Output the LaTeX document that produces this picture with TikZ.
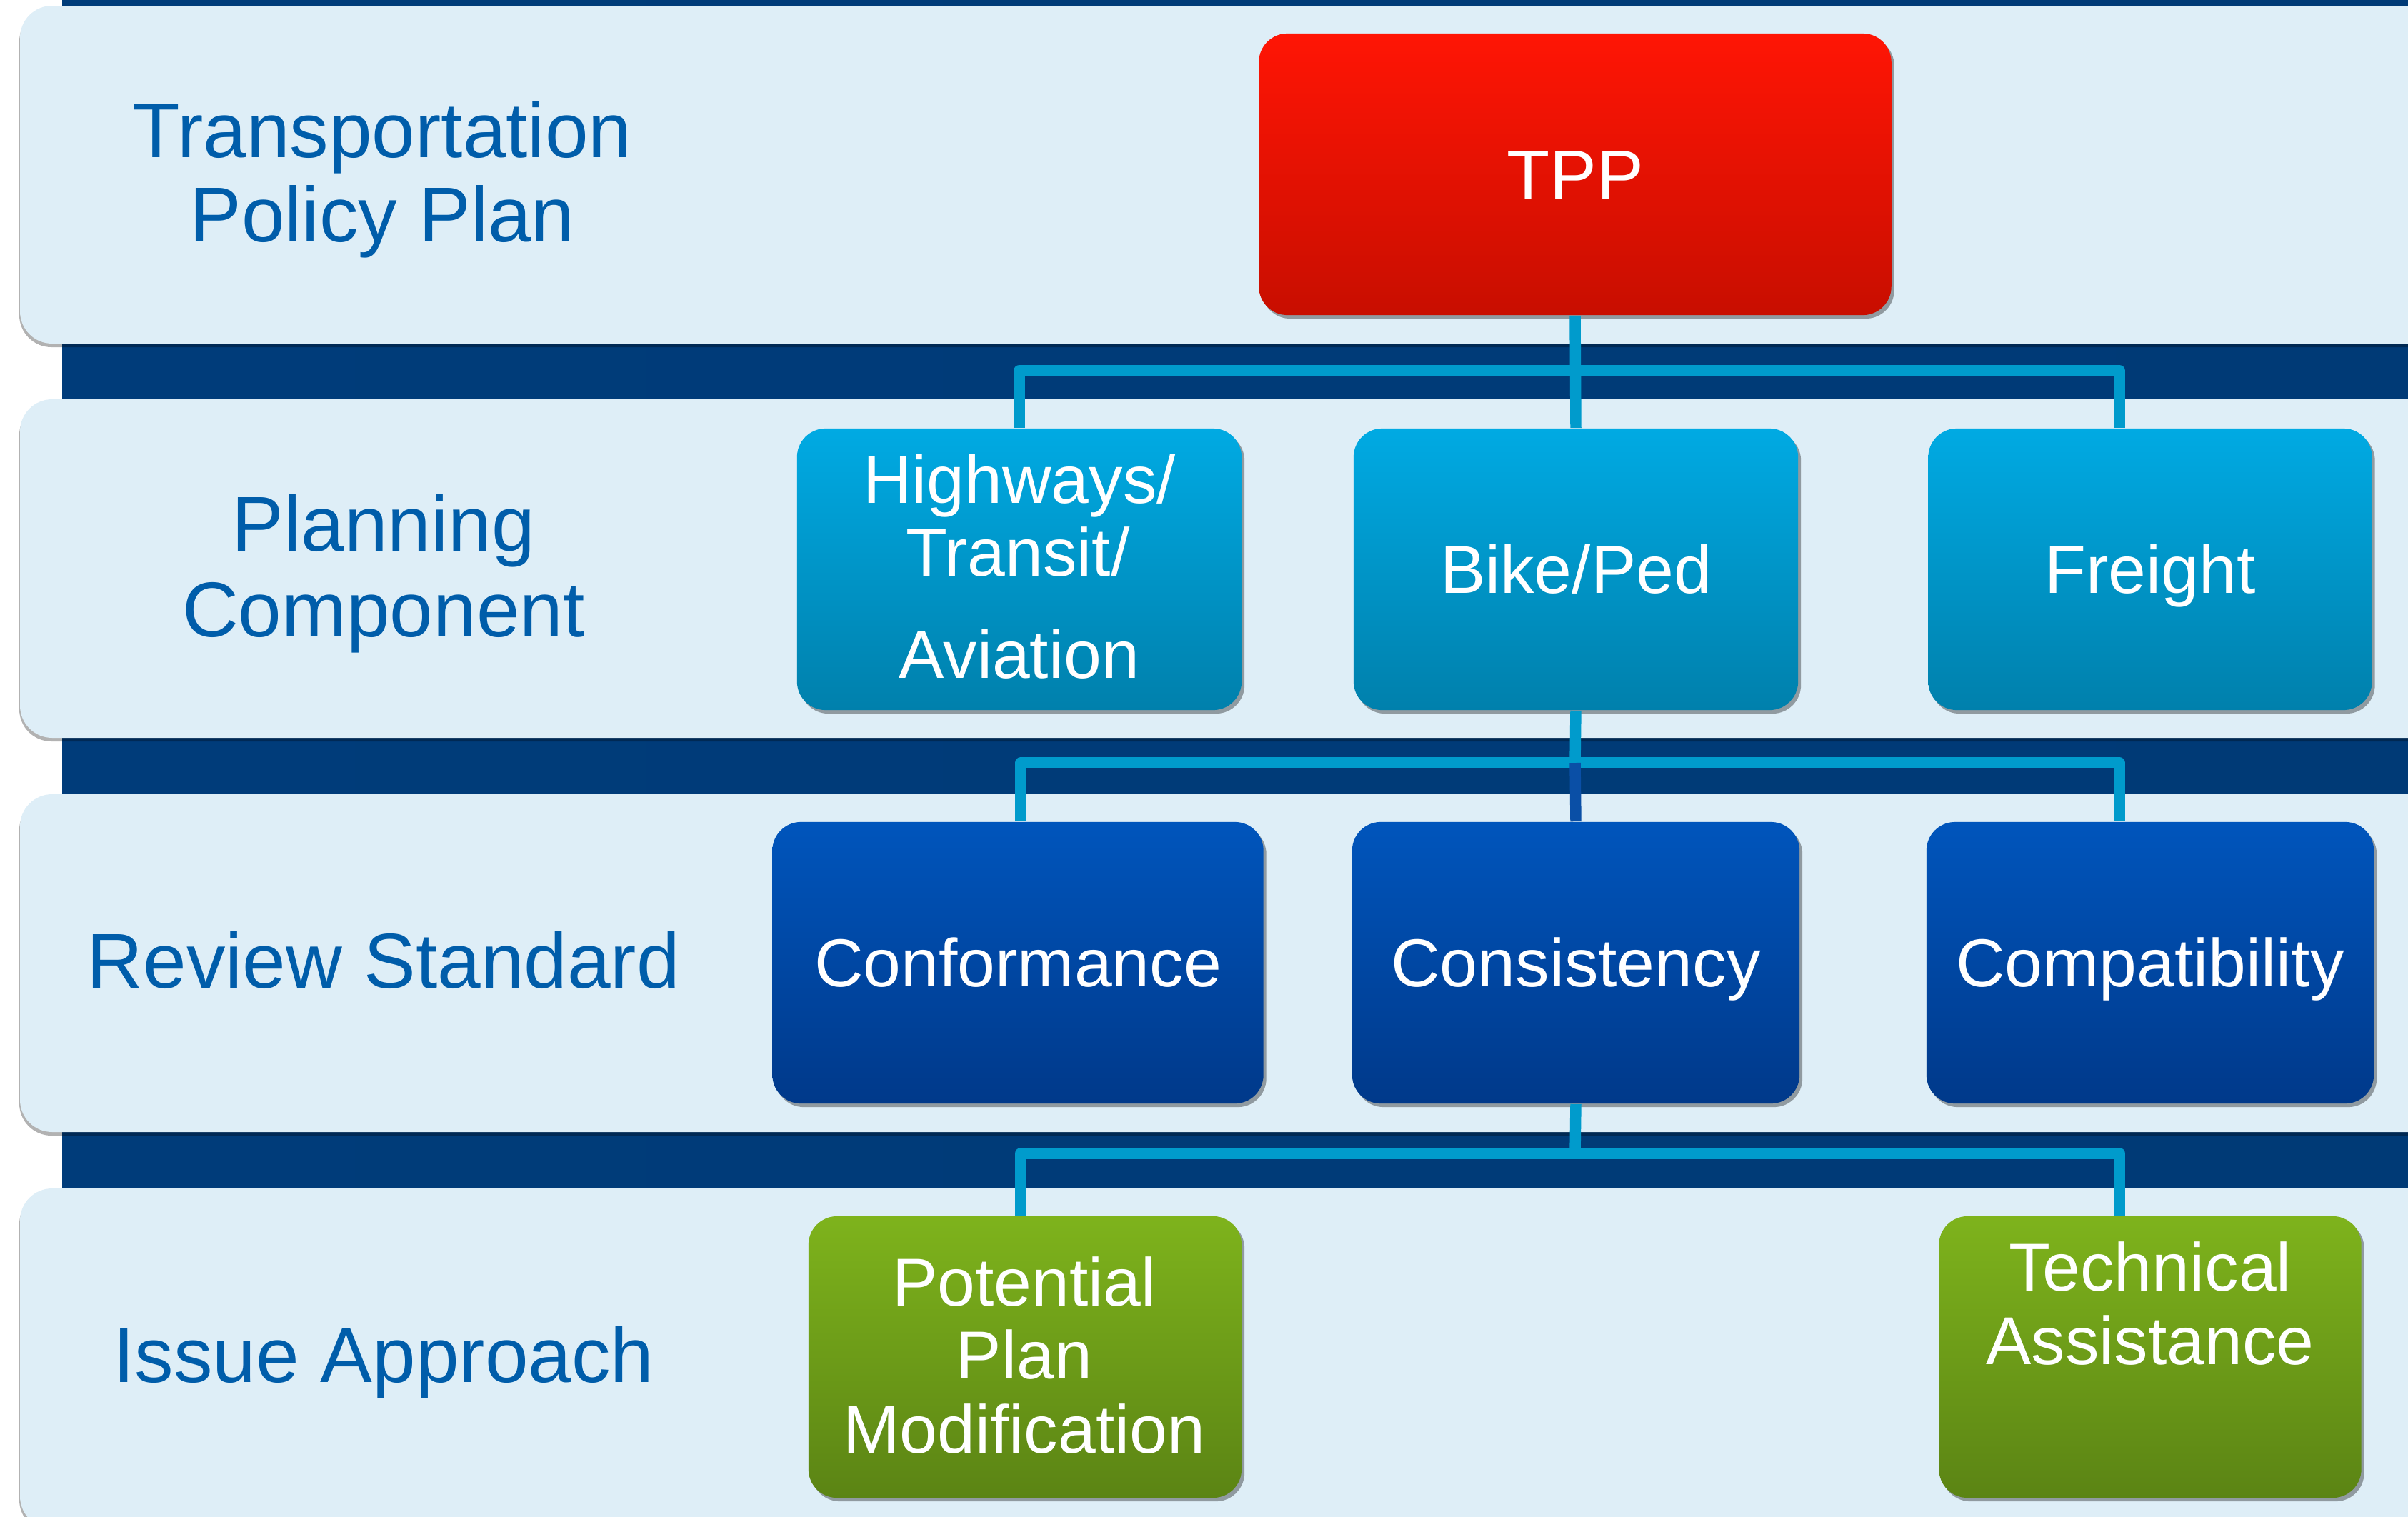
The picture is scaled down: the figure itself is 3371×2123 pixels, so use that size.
\documentclass[tikz,border=0pt]{standalone}
\usepackage{fontspec}
\setmainfont{Liberation Sans}
\usetikzlibrary{shadows}
\definecolor{bgL}{HTML}{003C7A}
\definecolor{bgM}{HTML}{00488D}
\definecolor{bgR}{HTML}{003A76}
\definecolor{bandfill}{HTML}{DEEEF7}
\definecolor{labelblue}{HTML}{005DAA}
\definecolor{connblue}{HTML}{009BCC}
\definecolor{conndark}{HTML}{0A4FA6}
\definecolor{redT}{HTML}{FF1505}
\definecolor{redB}{HTML}{C80E00}
\definecolor{cyanT}{HTML}{00AAE3}
\definecolor{cyanB}{HTML}{0080AC}
\definecolor{blueT}{HTML}{0055BC}
\definecolor{blueB}{HTML}{00398A}
\definecolor{greenT}{HTML}{7EB31C}
\definecolor{greenB}{HTML}{5B8414}
\newcommand{\lblfont}{\fontsize{31pt}{34pt}\selectfont}
\newcommand{\bxfont}{\fontsize{27pt}{29pt}\selectfont}
\tikzset{
  band/.style={fill=bandfill, rounded corners=0.45cm,
    drop shadow={shadow xshift=-0.01cm, shadow yshift=-0.05cm, opacity=0.3, fill=black}},
  boxbase/.style={rectangle, rounded corners=0.4cm, inner sep=0pt, minimum height=3.94cm,
    text=white, font=\bxfont, text height=19.3pt, text depth=0pt,
    drop shadow={shadow xshift=0.04cm, shadow yshift=-0.05cm, opacity=0.35, fill=black}},
  redbox/.style={boxbase, top color=redT, bottom color=redB},
  cyanbox/.style={boxbase, top color=cyanT, bottom color=cyanB},
  bluebox/.style={boxbase, top color=blueT, bottom color=blueB},
  greenbox/.style={boxbase, top color=greenT, bottom color=greenB},
  rowlabel/.style={anchor=base, text=labelblue, font=\lblfont, inner sep=0pt},
  boxtext/.style={anchor=base, text=white, font=\bxfont, inner sep=0pt},
  conn/.style={draw=connblue, line width=4.4pt, line join=round},
}
\begin{document}
\begin{tikzpicture}[x=0.01cm, y=-0.01cm]
\useasboundingbox (0,0) rectangle (3371,2123);
\clip (0,0) rectangle (3371,2123);
\fill[white] (0,0) rectangle (3371,2123);
% dark background
\shade[left color=bgL, middle color=bgM, right color=bgR] (87,0) rectangle (3371,2123);
% light bands
\path[band] (28,8) rectangle (3440,481);
\path[band] (28,559) rectangle (3440,1033);
\path[band] (28,1112) rectangle (3440,1585);
\path[band] (28,1664) rectangle (3440,2140);

% row labels
\node[rowlabel] (l1a) at (535,220) {Transportation};
\node[rowlabel] (l1b) at (535,338) {Policy Plan};
\node[rowlabel] (l2a) at (537,771) {Planning};
\node[rowlabel] (l2b) at (537,891) {Component};
\node[rowlabel] (l3) at (537,1383) {Review Standard};
\node[rowlabel] (l4) at (537,1935) {Issue Approach};

% coordinates of the bus bars
\coordinate (b1) at (2205,519);
\coordinate (b2) at (2205,1068);
\coordinate (b3) at (2205,1615);

% boxes
\node[redbox, minimum width=8.85cm, font=\fontsize{28pt}{30pt}\selectfont, text height=20pt] (tpp) at (2205,244) {TPP};
\node[cyanbox, minimum width=6.22cm] (hwy) at (1427,797) {};
\node[cyanbox, minimum width=6.22cm] (bike) at (2206,797) {Bike/Ped};
\node[cyanbox, minimum width=6.21cm] (frt) at (3010,797) {Freight};
\node[bluebox, minimum width=6.87cm] (conf) at (1425,1348) {Conformance};
\node[bluebox, minimum width=6.26cm] (cons) at (2206,1348) {Consistency};
\node[bluebox, minimum width=6.26cm] (comp) at (3010,1348) {Compatibility};
\node[greenbox, minimum width=6.06cm] (pot) at (1435,1900) {};
\node[greenbox, minimum width=5.91cm] (tech) at (3010,1900) {};

% multi-line box texts
\node[boxtext] (hwy1) at (1427,704) {Highways/};
\node[boxtext] (hwy2) at (1425,806) {Transit/};
\node[boxtext] (hwy3) at (1427,949) {Aviation};
\node[boxtext] (pot1) at (1434,1828) {Potential};
\node[boxtext] (pot2) at (1434,1930) {Plan};
\node[boxtext] (pot3) at (1434,2034) {Modification};
\node[boxtext] (tech1) at (3010,1807) {Technical};
\node[boxtext] (tech2) at (3010,1910) {Assistance};

% connectors
\path ([xshift=-0.43cm]frt.north) coordinate (frtin);
\path ([xshift=-0.43cm]comp.north) coordinate (compin);
\path ([xshift=-0.43cm]tech.north) coordinate (techin);
\path ([xshift=0.04cm]conf.north) coordinate (confin);
\path ([xshift=-0.06cm]pot.north) coordinate (potin);

\draw[conn] (tpp.south) -- (bike.north);
\draw[conn] (hwy.north) |- (b1) -| (frtin);

\draw[conn] (bike.south) -- (b2);
\draw[conn] (confin) |- (b2) -| (compin);
\draw[conn, draw=conndark] (b2) -- (cons.north);

\draw[conn] (cons.south) -- (b3);
\draw[conn] (potin) |- (b3) -| (techin);
\end{tikzpicture}
\end{document}
